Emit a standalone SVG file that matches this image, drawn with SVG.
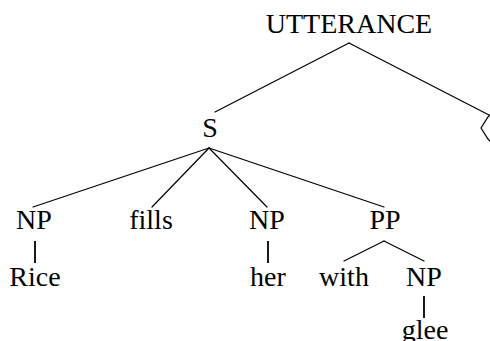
<svg xmlns="http://www.w3.org/2000/svg" width="490" height="341" viewBox="0 0 490 341">
  <style>
    .lbl { font-family: "Liberation Serif", "DejaVu Serif", serif; font-size: 28px; fill: #000; text-anchor: middle; }
    .edge { stroke: #000; stroke-width: 1.2; fill: none; stroke-linecap: round; }
    .stem { stroke: #000; stroke-width: 1.8; fill: none; }
  </style>
  <rect width="490" height="341" fill="#fff"/>

  <!-- connectors -->
  <g id="edges">
    <line class="edge" x1="349" y1="43" x2="215" y2="112"/>
    <line class="edge" x1="349" y1="43" x2="489" y2="115"/>
    <line class="edge" x1="209" y1="148" x2="33" y2="207"/>
    <line class="edge" x1="209" y1="148" x2="152" y2="207"/>
    <line class="edge" x1="209" y1="148" x2="267" y2="207"/>
    <line class="edge" x1="209" y1="148" x2="384" y2="207"/>
    <line class="stem" x1="35" y1="241" x2="35" y2="263"/>
    <line class="stem" x1="268" y1="241" x2="268" y2="263"/>
    <line class="edge" x1="384" y1="241" x2="344" y2="261"/>
    <line class="edge" x1="384" y1="241" x2="424" y2="261"/>
    <line class="stem" x1="424" y1="296" x2="424" y2="318"/>
  </g>

  <!-- nodes -->
  <g id="n-utterance"><text class="lbl" x="349" y="33">UTTERANCE</text></g>
  <g id="n-s"><text class="lbl" x="210" y="137">S</text></g>
  <g id="n-partial"><path class="edge" d="M490,115 L488,117 L481,128 L488,139 L490,141"/></g>
  <g id="n-np1"><text class="lbl" x="34" y="229">NP</text></g>
  <g id="n-fills"><text class="lbl" x="151" y="229">fills</text></g>
  <g id="n-np2"><text class="lbl" x="267" y="229">NP</text></g>
  <g id="n-pp"><text class="lbl" x="385" y="229">PP</text></g>
  <g id="n-rice"><text class="lbl" x="35" y="286">Rice</text></g>
  <g id="n-her"><text class="lbl" x="268" y="286">her</text></g>
  <g id="n-with"><text class="lbl" x="344" y="286">with</text></g>
  <g id="n-np3"><text class="lbl" x="424" y="286">NP</text></g>
  <g id="n-glee"><text class="lbl" x="425" y="339">glee</text></g>
</svg>
